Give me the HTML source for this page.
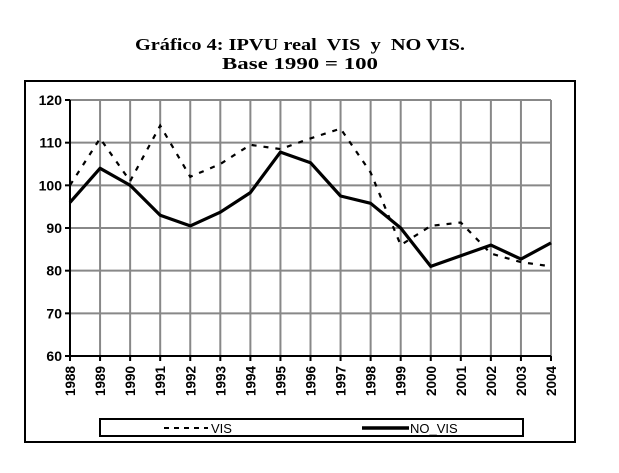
<!DOCTYPE html>
<html><head><meta charset="utf-8"><style>
body{margin:0;background:#fff;}
text{white-space:pre;}
</style></head><body>
<svg width="619" height="468" xmlns="http://www.w3.org/2000/svg" font-family="Liberation Sans, Arial, sans-serif">
<rect width="619" height="468" fill="#fff"/>
<text x="135" y="50" font-family="Liberation Serif, serif" font-weight="bold" font-size="17" textLength="330" lengthAdjust="spacingAndGlyphs">Gráfico 4: IPVU real  VIS  y  NO VIS.</text>
<text x="222" y="69" font-family="Liberation Serif, serif" font-weight="bold" font-size="17" textLength="156" lengthAdjust="spacingAndGlyphs">Base 1990 = 100</text>
<rect x="25" y="81" width="550" height="361" fill="none" stroke="#000" stroke-width="2"/>
<g stroke="#888" stroke-width="2">
<line x1="70" x2="551" y1="100" y2="100"/><line x1="70" x2="551" y1="142.67" y2="142.67"/><line x1="70" x2="551" y1="185.33" y2="185.33"/><line x1="70" x2="551" y1="228" y2="228"/><line x1="70" x2="551" y1="270.67" y2="270.67"/><line x1="70" x2="551" y1="313.33" y2="313.33"/>
<line x1="100.06" x2="100.06" y1="100" y2="356"/><line x1="130.13" x2="130.13" y1="100" y2="356"/><line x1="160.19" x2="160.19" y1="100" y2="356"/><line x1="190.25" x2="190.25" y1="100" y2="356"/><line x1="220.31" x2="220.31" y1="100" y2="356"/><line x1="250.38" x2="250.38" y1="100" y2="356"/><line x1="280.44" x2="280.44" y1="100" y2="356"/><line x1="310.5" x2="310.5" y1="100" y2="356"/><line x1="340.56" x2="340.56" y1="100" y2="356"/><line x1="370.63" x2="370.63" y1="100" y2="356"/><line x1="400.69" x2="400.69" y1="100" y2="356"/><line x1="430.75" x2="430.75" y1="100" y2="356"/><line x1="460.81" x2="460.81" y1="100" y2="356"/><line x1="490.88" x2="490.88" y1="100" y2="356"/><line x1="520.94" x2="520.94" y1="100" y2="356"/><line x1="551" x2="551" y1="100" y2="356"/>
</g>
<g stroke="#000" stroke-width="2">
<line x1="70" x2="70" y1="100" y2="356"/><line x1="70" x2="551" y1="356" y2="356"/>
<line x1="65" x2="70" y1="100" y2="100"/><line x1="65" x2="70" y1="142.67" y2="142.67"/><line x1="65" x2="70" y1="185.33" y2="185.33"/><line x1="65" x2="70" y1="228" y2="228"/><line x1="65" x2="70" y1="270.67" y2="270.67"/><line x1="65" x2="70" y1="313.33" y2="313.33"/><line x1="65" x2="70" y1="356" y2="356"/>
<line x1="70" x2="70" y1="356" y2="361"/><line x1="100.06" x2="100.06" y1="356" y2="361"/><line x1="130.13" x2="130.13" y1="356" y2="361"/><line x1="160.19" x2="160.19" y1="356" y2="361"/><line x1="190.25" x2="190.25" y1="356" y2="361"/><line x1="220.31" x2="220.31" y1="356" y2="361"/><line x1="250.38" x2="250.38" y1="356" y2="361"/><line x1="280.44" x2="280.44" y1="356" y2="361"/><line x1="310.5" x2="310.5" y1="356" y2="361"/><line x1="340.56" x2="340.56" y1="356" y2="361"/><line x1="370.63" x2="370.63" y1="356" y2="361"/><line x1="400.69" x2="400.69" y1="356" y2="361"/><line x1="430.75" x2="430.75" y1="356" y2="361"/><line x1="460.81" x2="460.81" y1="356" y2="361"/><line x1="490.88" x2="490.88" y1="356" y2="361"/><line x1="520.94" x2="520.94" y1="356" y2="361"/><line x1="551" x2="551" y1="356" y2="361"/>
</g>
<g font-weight="bold" font-size="14" text-anchor="end">
<text x="62" y="105">120</text><text x="62" y="147.7">110</text><text x="62" y="190.3">100</text><text x="62" y="233">90</text><text x="62" y="275.7">80</text><text x="62" y="318.3">70</text><text x="62" y="361">60</text>
</g>
<g font-weight="bold" font-size="13.5" text-anchor="end">
<text transform="translate(75,366) rotate(-90)">1988</text>
<text transform="translate(105.1,366) rotate(-90)">1989</text>
<text transform="translate(135.1,366) rotate(-90)">1990</text>
<text transform="translate(165.2,366) rotate(-90)">1991</text>
<text transform="translate(195.3,366) rotate(-90)">1992</text>
<text transform="translate(225.3,366) rotate(-90)">1993</text>
<text transform="translate(255.4,366) rotate(-90)">1994</text>
<text transform="translate(285.4,366) rotate(-90)">1995</text>
<text transform="translate(315.5,366) rotate(-90)">1996</text>
<text transform="translate(345.6,366) rotate(-90)">1997</text>
<text transform="translate(375.6,366) rotate(-90)">1998</text>
<text transform="translate(405.7,366) rotate(-90)">1999</text>
<text transform="translate(435.8,366) rotate(-90)">2000</text>
<text transform="translate(465.8,366) rotate(-90)">2001</text>
<text transform="translate(495.9,366) rotate(-90)">2002</text>
<text transform="translate(525.9,366) rotate(-90)">2003</text>
<text transform="translate(556,366) rotate(-90)">2004</text>
</g>
<polyline fill="none" stroke="#000" stroke-width="2.2" stroke-dasharray="5,7" points="70,185.3 100.06,138.4 130.13,181.1 160.19,125.6 190.25,176.8 220.31,164 250.38,144.8 280.44,149.1 310.5,138.4 340.56,128.6 370.63,172.5 400.69,245.1 430.75,225.9 460.81,222.5 490.88,253.6 520.94,262.1 551,266.4"/>
<polyline fill="none" stroke="#000" stroke-width="3.2" stroke-linejoin="round" points="70,202.4 100.06,168.3 130.13,185.3 160.19,215.2 190.25,225.9 220.31,212.2 250.38,192.6 280.44,152.1 310.5,162.7 340.56,196 370.63,203.3 400.69,228 430.75,266.4 460.81,255.7 490.88,245.1 520.94,259.1 551,242.9"/>
<rect x="100" y="419" width="423" height="17" fill="none" stroke="#000" stroke-width="2"/>
<line x1="164" y1="428" x2="208" y2="428" stroke="#000" stroke-width="2" stroke-dasharray="5,5"/>
<text x="211" y="433" font-size="13">VIS</text>
<line x1="362" y1="428" x2="409" y2="428" stroke="#000" stroke-width="3.5"/>
<text x="410" y="433" font-size="13">NO_VIS</text>
</svg>
</body></html>
